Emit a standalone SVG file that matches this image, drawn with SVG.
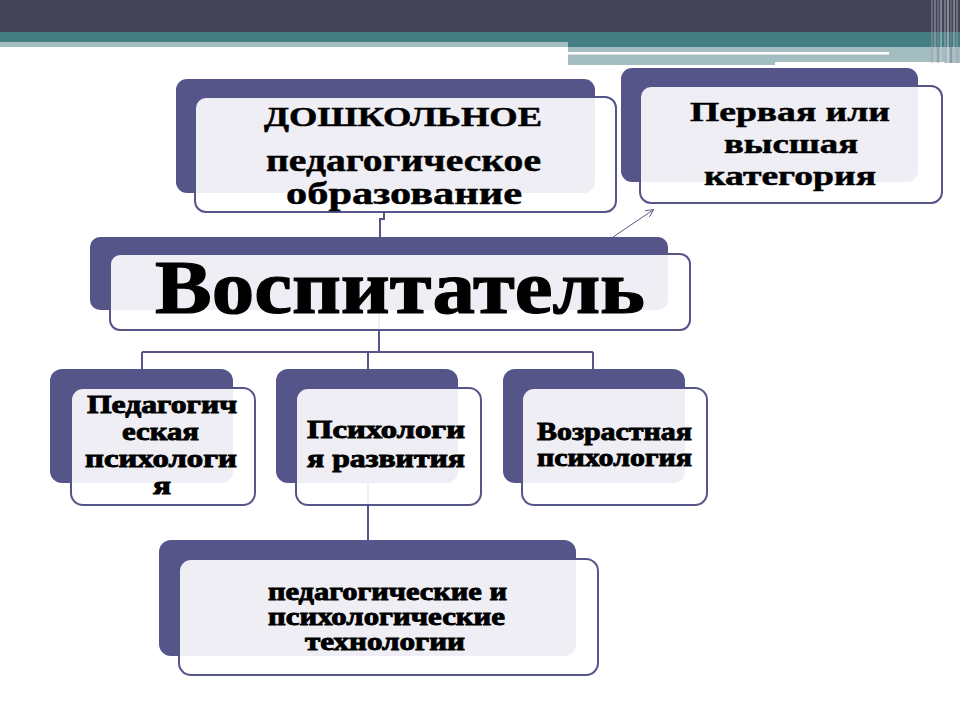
<svg xmlns="http://www.w3.org/2000/svg" width="960" height="720" viewBox="0 0 960 720">
<defs>
<style>
.back{fill:#55558a}
.front{fill:#ffffff;fill-opacity:0.9;stroke:#55558a;stroke-width:2}
.conn{fill:none;stroke:#55558a;stroke-width:2}
.t{font-family:"Liberation Serif","Times New Roman",serif;font-weight:bold;fill:#000}
.m{stroke:#000;stroke-width:0.5}
.h{stroke:#000;stroke-width:0.9}
</style>
<marker id="arr" viewBox="0 0 10 10" refX="9" refY="5" markerWidth="8" markerHeight="8" orient="auto" markerUnits="userSpaceOnUse">
<path d="M0,0 L10,5 L0,10" fill="none" stroke="#5a5a8a" stroke-width="1.2"/>
</marker>
</defs>
<rect width="960" height="720" fill="#ffffff"/>
<g id="header">
<rect x="0" y="0" width="960" height="32" fill="#434357"/>
<rect x="0" y="32" width="960" height="10" fill="#457e82"/>
<rect x="0" y="42" width="568" height="5" fill="#a4bdc1"/>
<rect x="568" y="42" width="392" height="5" fill="#457e82"/>
<rect x="568" y="47" width="392" height="16" fill="#a4bdc1"/>
<rect x="568" y="52" width="321" height="2.5" fill="#ffffff"/>
<rect x="775" y="62" width="170" height="3" fill="#ffffff"/>
<rect x="568" y="63" width="207" height="2" fill="#a4bdc1"/>
<g stroke-width="1.5">
<line x1="932" y1="0" x2="932" y2="63" stroke="#9a9aaa" stroke-opacity="0.6"/>
<line x1="935" y1="0" x2="935" y2="63" stroke="#c8c8d2" stroke-opacity="0.5"/>
<line x1="938" y1="0" x2="938" y2="63" stroke="#8a8a9c" stroke-opacity="0.7"/>
<line x1="941" y1="0" x2="941" y2="63" stroke="#d0d0da" stroke-opacity="0.6"/>
<line x1="945" y1="0" x2="945" y2="63" stroke="#b0b0be" stroke-opacity="0.6"/>
<line x1="948" y1="0" x2="948" y2="63" stroke="#e0e0e8" stroke-opacity="0.6"/>
<line x1="951" y1="0" x2="951" y2="63" stroke="#7a7a8c" stroke-opacity="0.7"/>
<line x1="954" y1="0" x2="954" y2="63" stroke="#c0c0cc" stroke-opacity="0.6"/>
<line x1="957" y1="0" x2="957" y2="63" stroke="#a0a0b0" stroke-opacity="0.6"/>
</g>
</g>
<g id="connectors">
<path class="conn" d="M384,212 V219 H380 V237"/>
<path class="conn" d="M379,300 V352"/>
<path class="conn" d="M142,352 H593"/>
<path class="conn" d="M142,352 V369"/>
<path class="conn" d="M368,352 V369"/>
<path class="conn" d="M593,352 V369"/>
<path class="conn" d="M368,470 V540"/>
<line x1="613" y1="237" x2="653" y2="210" stroke="#5a5a8a" stroke-width="1" marker-end="url(#arr)"/>
</g>
<g id="node-doshkolnoe">
<rect class="back" x="176" y="79" width="419" height="114" rx="11"/>
<rect class="front" x="195" y="97" width="421" height="115" rx="11"/>
<text class="t m" x="264" y="126" font-size="28" textLength="278" lengthAdjust="spacingAndGlyphs">ДОШКОЛЬНОЕ</text>
<text class="t m" x="266" y="171" font-size="32" textLength="275" lengthAdjust="spacingAndGlyphs">педагогическое</text>
<text class="t m" x="286" y="204" font-size="32" textLength="236" lengthAdjust="spacingAndGlyphs">образование</text>
</g>
<g id="node-kategoriya">
<rect class="back" x="621" y="68" width="297" height="114" rx="11"/>
<rect class="front" x="640" y="86" width="302" height="117" rx="11"/>
<text class="t m" x="690" y="121" font-size="28" textLength="200" lengthAdjust="spacingAndGlyphs">Первая или</text>
<text class="t m" x="724" y="153" font-size="28" textLength="134" lengthAdjust="spacingAndGlyphs">высшая</text>
<text class="t m" x="704" y="185" font-size="28" textLength="172" lengthAdjust="spacingAndGlyphs">категория</text>
</g>
<g id="node-vospitatel">
<rect class="back" x="90" y="237" width="578" height="73" rx="10"/>
<rect class="front" x="110" y="254" width="580" height="76" rx="10"/>
<text class="t" x="155" y="313" font-size="76" textLength="490" lengthAdjust="spacingAndGlyphs" stroke="#000" stroke-width="1.2">Воспитатель</text>
</g>
<g id="node-ped-psych">
<rect class="back" x="50" y="369" width="183" height="114" rx="12"/>
<rect class="front" x="71" y="388" width="184" height="117" rx="12"/>
<text class="t h" x="87" y="413" font-size="25" textLength="150" lengthAdjust="spacingAndGlyphs">Педагогич</text>
<text class="t h" x="122" y="440" font-size="25" textLength="77" lengthAdjust="spacingAndGlyphs">еская</text>
<text class="t h" x="85" y="467" font-size="25" textLength="152" lengthAdjust="spacingAndGlyphs">психологи</text>
<text class="t h" x="153" y="494" font-size="25" textLength="18" lengthAdjust="spacingAndGlyphs">я</text>
</g>
<g id="node-psych-razv">
<rect class="back" x="276" y="369" width="182" height="114" rx="12"/>
<rect class="front" x="296" y="388" width="185" height="117" rx="12"/>
<text class="t h" x="307" y="438" font-size="25" textLength="158" lengthAdjust="spacingAndGlyphs">Психологи</text>
<text class="t h" x="307" y="467" font-size="25" textLength="158" lengthAdjust="spacingAndGlyphs">я развития</text>
</g>
<g id="node-vozr-psych">
<rect class="back" x="503" y="369" width="182" height="114" rx="12"/>
<rect class="front" x="522" y="388" width="185" height="117" rx="12"/>
<text class="t h" x="537" y="440" font-size="25" textLength="155" lengthAdjust="spacingAndGlyphs">Возрастная</text>
<text class="t h" x="537" y="466" font-size="25" textLength="155" lengthAdjust="spacingAndGlyphs">психология</text>
</g>
<g id="node-tech">
<rect class="back" x="159" y="540" width="417" height="116" rx="12"/>
<rect class="front" x="179" y="559" width="419" height="116" rx="12"/>
<text class="t h" x="268" y="600" font-size="25" textLength="239" lengthAdjust="spacingAndGlyphs">педагогические  и</text>
<text class="t h" x="268" y="625" font-size="25" textLength="237" lengthAdjust="spacingAndGlyphs">психологические</text>
<text class="t h" x="305" y="650" font-size="25" textLength="160" lengthAdjust="spacingAndGlyphs">технологии</text>
</g>
</svg>
